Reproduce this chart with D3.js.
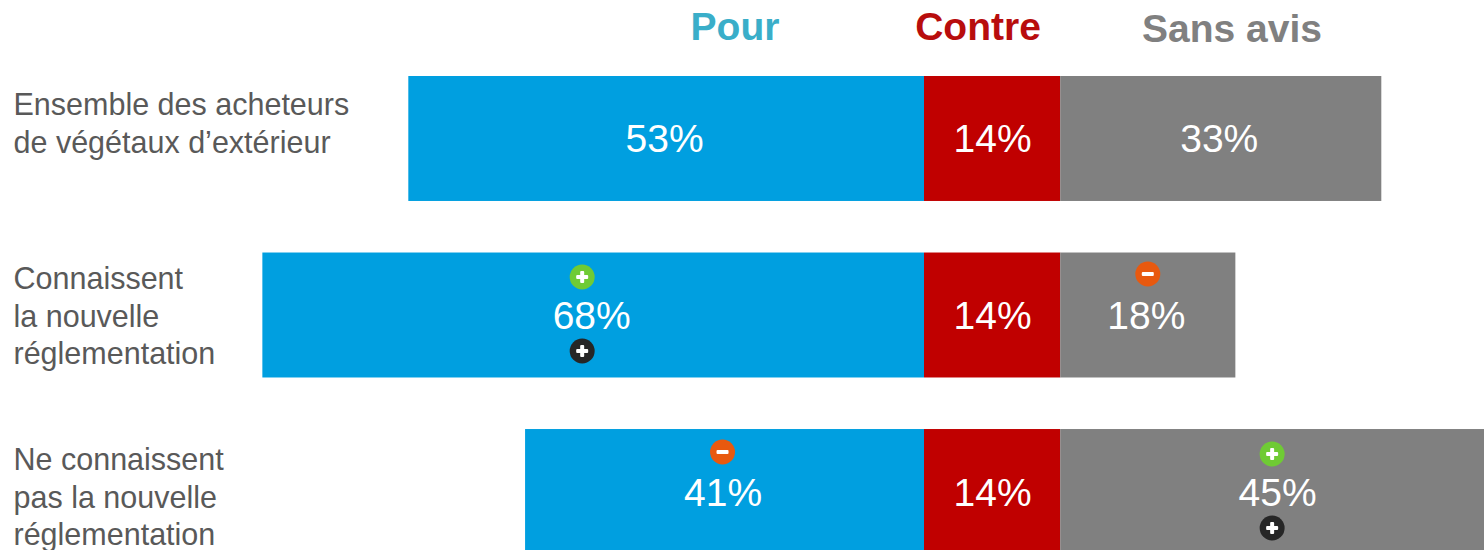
<!DOCTYPE html>
<html>
<head>
<meta charset="utf-8">
<script src="https://cdn.jsdelivr.net/npm/d3@7"></script>
<style>
  html, body { margin: 0; padding: 0; background: #fff; overflow: hidden; }
  text { font-family: "Liberation Sans", Arial, sans-serif; }
</style>
</head>
<body>
<script>
// values
const rowLabels = [
  ['Ensemble des acheteurs', 'de végétaux d’extérieur'],
  ['Connaissent', 'la nouvelle', 'réglementation'],
  ['Ne connaissent', 'pas la nouvelle', 'réglementation']
];
const seriesNames = ['Pour', 'Contre', 'Sans avis'];
const seriesColors = ['#009fe0', '#c00000', '#808080'];
const headerColors = ['#3aaec9', '#b80d0d', '#808080'];
const pour = [53, 68, 41];
const contre = [14, 14, 14];
const sansAvis = [33, 18, 45];
// significance markers: row, series, place, sign
const badges = [
  { row: 1, serie: 0, place: 'above', kind: 'plus' },
  { row: 1, serie: 0, place: 'below', kind: 'plusDark' },
  { row: 1, serie: 2, place: 'above', kind: 'minus' },
  { row: 2, serie: 0, place: 'above', kind: 'minus' },
  { row: 2, serie: 2, place: 'above', kind: 'plus' },
  { row: 2, serie: 2, place: 'below', kind: 'plusDark' }
];

const width = 1484, height = 550;
const svg = d3.select('body').append('svg')
  .attr('width', width).attr('height', height)
  .style('display', 'block');

// zero is the left edge of the Contre bar, Pour grows to the left
const x = d3.scaleLinear().domain([0, 100]).range([924, 1897]);
const y = d3.scaleBand().domain(d3.range(rowLabels.length))
  .range([76, 554]).paddingInner(0.292).paddingOuter(0);

const segments = [];
rowLabels.forEach((r, i) => {
  const a = -pour[i], b = contre[i], c = b + sansAvis[i];
  segments.push({ row: i, serie: 0, from: a, to: 0, value: pour[i] });
  segments.push({ row: i, serie: 1, from: 0, to: b, value: contre[i] });
  segments.push({ row: i, serie: 2, from: b, to: c, value: sansAvis[i] });
});

svg.append('g').selectAll('rect').data(segments).join('rect')
  .attr('x', d => x(d.from))
  .attr('y', d => y(d.row))
  .attr('width', d => x(d.to) - x(d.from))
  .attr('height', y.bandwidth())
  .attr('fill', d => seriesColors[d.serie]);

const cx = d => (x(d.from) + x(d.to)) / 2;
const cy = d => y(d.row) + y.bandwidth() / 2;

const valueShift = [-1.5, 0.5, -1.5];
svg.append('g').selectAll('text').data(segments).join('text')
  .attr('x', d => cx(d) + valueShift[d.serie])
  .attr('y', d => cy(d) + 14)
  .attr('text-anchor', 'middle')
  .attr('font-size', 39)
  .attr('fill', '#fff')
  .text(d => d.value + '%');

// row labels, first baseline differs per row in the original
const labelTop = [115, 289, 470];
const labelG = svg.append('g');
rowLabels.forEach((lines, i) => {
  lines.forEach((t, j) => {
    labelG.append('text')
      .attr('x', 13.5)
      .attr('y', labelTop[i] + j * 37.5)
      .attr('font-size', 30.5)
      .attr('fill', '#595959')
      .text(t);
  });
});

// column headers
const headerX = [735, 978, 1232];
const headerY = [40, 40, 42];
svg.append('g').selectAll('text').data(seriesNames).join('text')
  .attr('x', (d, i) => headerX[i])
  .attr('y', (d, i) => headerY[i])
  .attr('text-anchor', 'middle')
  .attr('font-size', 39)
  .attr('font-weight', 'bold')
  .attr('fill', (d, i) => headerColors[i])
  .text(d => d);

// badges were hand placed in the original, so each has its own offset from the bar centre
const badgeColor = { plus: '#6fcb34', minus: '#e8590f', plusDark: '#262626' };
const badgeNudge = [[-11, -38], [-11, 36], [0, -41], [-2, -39.5], [-7, -37.5], [-7, 36.5]];
const badge = svg.append('g').selectAll('g').data(badges).join('g')
  .attr('transform', (d, i) => {
    const s = segments.find(e => e.row === d.row && e.serie === d.serie);
    return `translate(${cx(s) + badgeNudge[i][0]},${cy(s) + badgeNudge[i][1]})`;
  });
badge.append('circle').attr('r', 12.5).attr('fill', d => badgeColor[d.kind]);
badge.append('rect').attr('x', -6).attr('y', -2).attr('width', 12).attr('height', 4).attr('rx', 1).attr('fill', '#fff');
badge.filter(d => d.kind !== 'minus').append('rect')
  .attr('x', -2).attr('y', -6).attr('width', 4).attr('height', 12).attr('rx', 1).attr('fill', '#fff');
</script>
</body>
</html>
